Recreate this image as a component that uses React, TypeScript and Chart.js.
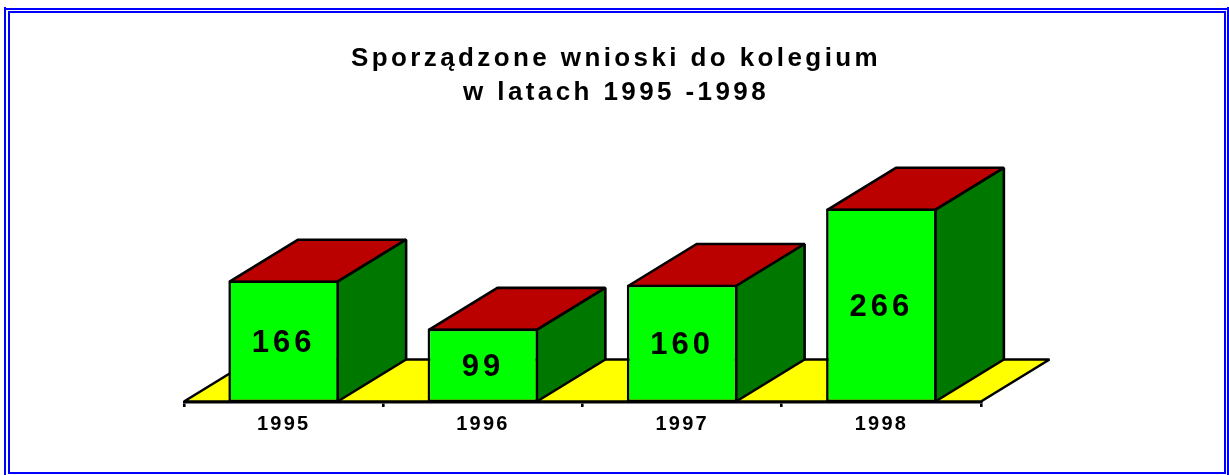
import React, { useEffect, useRef } from "react";
import { Chart, registerables } from "chart.js";

Chart.register(...registerables);

const years = ["1995", "1996", "1997", "1998"];
const wnioski = [166, 99, 160, 266];
const titleLines = ["Sporządzone wnioski do kolegium", "w latach 1995 -1998"];

const FONT = "'Liberation Sans', Arial, sans-serif";
const DEPTH_X = 68.5;
const DEPTH_Y = -42;
const LINE = 2.6;
const AXIS_MIN = -3.2;
const AXIS_MAX = 300;
const INK = "#000000";
const FRONT = "#00ff00";
const TOP = "#bb0000";
const SIDE = "#007800";
const FLOOR = "#ffff00";
const FRAME = "#0000ff";

function poly(ctx: CanvasRenderingContext2D, pts: number[][], fill: string) {
  ctx.beginPath();
  pts.forEach(([x, y], i) => (i ? ctx.lineTo(x, y) : ctx.moveTo(x, y)));
  ctx.closePath();
  ctx.fillStyle = fill;
  ctx.fill();
  ctx.stroke();
}

function frameLine(ctx: CanvasRenderingContext2D, pts: number[][]) {
  ctx.beginPath();
  pts.forEach(([x, y], i) => (i ? ctx.lineTo(x, y) : ctx.moveTo(x, y)));
  ctx.stroke();
}

const scene = {
  id: "scene",
  beforeDraw(chart: any) {
    const ctx = chart.ctx;
    ctx.save();
    ctx.strokeStyle = FRAME;
    ctx.lineWidth = 2;
    frameLine(ctx, [[5, 475], [5, 7]]);
    frameLine(ctx, [[1228, 7], [1228, 475]]);
    frameLine(ctx, [[4, 9], [1229, 9]]);
    frameLine(ctx, [[9, 474], [9, 12], [1225, 12], [1225, 473], [9, 473]]);
    ctx.restore();
    ctx.letterSpacing = "2.2px";
    const t = chart.titleBlock;
    if (t && !t.__spaced) {
      const d = t.draw.bind(t);
      t.draw = () => {
        const c = t.ctx;
        c.save();
        c.letterSpacing = "3.4px";
        c.translate(1.5, 0);
        d();
        c.restore();
      };
      t.__spaced = true;
    }
  },
  beforeDatasetsDraw(chart: any) {
    const ctx = chart.ctx;
    const { left, right, bottom } = chart.chartArea;
    const y0 = bottom - 0.5;
    ctx.save();
    ctx.letterSpacing = "0px";
    ctx.strokeStyle = INK;
    ctx.lineWidth = LINE;
    ctx.lineJoin = "bevel";
    poly(
      ctx,
      [
        [left, y0],
        [right, y0],
        [right + DEPTH_X, y0 + DEPTH_Y],
        [left + DEPTH_X, y0 + DEPTH_Y],
      ],
      FLOOR
    );
    chart.getDatasetMeta(0).data.forEach((bar: any) => {
      const l = bar.x - bar.width / 2 + LINE / 2;
      const r = bar.x + bar.width / 2 - LINE / 2;
      const t = bar.y + LINE / 2;
      poly(
        ctx,
        [
          [l, t],
          [r, t],
          [r + DEPTH_X, t + DEPTH_Y],
          [l + DEPTH_X, t + DEPTH_Y],
        ],
        TOP
      );
      poly(
        ctx,
        [
          [r, t],
          [r + DEPTH_X, t + DEPTH_Y],
          [r + DEPTH_X, y0 + DEPTH_Y],
          [r, y0],
        ],
        SIDE
      );
    });
    ctx.restore();
  },
  afterDatasetsDraw(chart: any) {
    const ctx = chart.ctx;
    ctx.save();
    ctx.letterSpacing = "4px";
    ctx.font = `bold 31px ${FONT}`;
    ctx.fillStyle = INK;
    ctx.textAlign = "center";
    ctx.textBaseline = "middle";
    chart.getDatasetMeta(0).data.forEach((bar: any, i: number) => {
      ctx.fillText(String(wnioski[i]), bar.x, (bar.y + bar.base) / 2 + 2.5);
    });
    ctx.restore();
  },
};

export default function App() {
  const ref = useRef<HTMLCanvasElement>(null);
  useEffect(() => {
    const hiddenAxis = (position: string, width: number) => ({
      position,
      min: AXIS_MIN,
      max: AXIS_MAX,
      grid: { display: false },
      border: { display: false },
      ticks: { display: false },
      afterFit(s: any) {
        s.width = width;
      },
    });
    const chart = new Chart(ref.current!, {
      type: "bar",
      data: {
        labels: years,
        datasets: [
          {
            data: wnioski,
            yAxisID: "y",
            base: AXIS_MIN,
            backgroundColor: FRONT,
            borderColor: INK,
            borderWidth: LINE,
            borderSkipped: false,
            barPercentage: 1,
            categoryPercentage: 0.555,
          },
        ],
      },
      options: {
        responsive: false,
        animation: false,
        layout: { padding: 0 },
        plugins: {
          legend: { display: false },
          tooltip: { enabled: false },
          title: {
            display: true,
            text: titleLines,
            color: INK,
            font: { family: FONT, size: 26, weight: "bold", lineHeight: 1.28 },
            padding: { top: 42.5, bottom: 75 },
          },
        },
        scales: {
          x: {
            grid: { drawOnChartArea: false, drawTicks: true, tickLength: 5, color: INK, lineWidth: 2.6 },
            border: { display: true, color: INK, width: 2.6 },
            ticks: { color: INK, font: { family: FONT, size: 20, weight: "bold" }, padding: 5, maxRotation: 0 },
            afterFit(s: any) {
              s.height = 73;
            },
          },
          y: hiddenAxis("left", 184),
          y2: hiddenAxis("right", 248),
        },
      } as any,
      plugins: [scene],
    } as any);
    return () => chart.destroy();
  }, []);
  return (
    <div style={{ position: "absolute", left: 0, top: 0, width: 1229, height: 475, background: "#fff" }}>
      <canvas ref={ref} width={1229} height={475} style={{ display: "block" }} />
    </div>
  );
}
